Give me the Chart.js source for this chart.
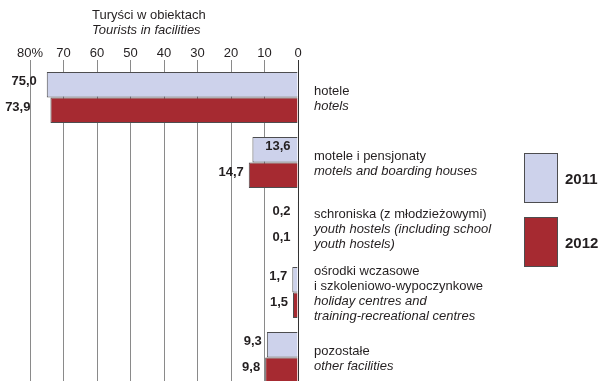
<!DOCTYPE html>
<html>
<head>
<meta charset="utf-8">
<script src="https://cdn.jsdelivr.net/npm/chart.js@4"></script>
<style>
  html, body { margin: 0; padding: 0; background: #fff; overflow: hidden; }
  #wrap { position: relative; width: 603px; height: 390px; }
</style>
</head>
<body>
<div id="wrap"><canvas id="chart"></canvas></div>
<script>
// Turyści w obiektach (%) — 2011 vs 2012
const categories = ['hotele', 'motele', 'schroniska', 'osrodki', 'pozostale'];
const values2011 = [75.0, 13.6, 0.2, 1.7, 9.3];
const values2012 = [73.9, 14.7, 0.1, 1.5, 9.8];
const seriesLabels = ['2011', '2012'];
const xTicks = [0, 10, 20, 30, 40, 50, 60, 70, 80];

// etykiety kategorii: linie po polsku (proste) i po angielsku (kursywa)
const plLines = [
    ['hotele'],
    ['motele i pensjonaty'],
    ['schroniska (z młodzieżowymi)'],
    ['ośrodki wczasowe', 'i szkoleniowo-wypoczynkowe'],
    ['pozostałe']
];
const enLines = [
    ['hotels'],
    ['motels and boarding houses'],
    ['youth hostels (including school', 'youth hostels)'],
    ['holiday centres and', 'training-recreational centres'],
    ['other facilities']
];

const titlePl = 'Turyści w obiektach';
const titleEn = 'Tourists in facilities';

const FONT = '"Liberation Sans", Arial, sans-serif';
const TEXT = '#231f20';
const fmt = v => v.toFixed(1).replace('.', ',');

// etykieta 13,6 siedzi w środku słupka
const insideLabel = (ds, i) => ds === 0 && i === 1;

const labelsPlugin = {
    id: 'customText',
    afterDatasetsDraw(chart) {
        const { ctx, chartArea, scales } = chart;
        ctx.save();

        // wartości przy słupkach
        ctx.font = 'bold 13px ' + FONT;
        ctx.fillStyle = TEXT;
        ctx.textAlign = 'right';
        ctx.textBaseline = 'middle';
        chart.data.datasets.forEach((ds, d) => {
            chart.getDatasetMeta(d).data.forEach((bar, i) => {
                const inner = bar.base - 7;
                let right = insideLabel(d, i) ? inner : Math.min(bar.x - 5, inner);
                if (bar.x < chartArea.left + 40) right = bar.x - 10 - d * 10; // długie słupki hoteli
                ctx.fillText(fmt(ds.data[i]), right, bar.y - 3);
            });
        });

        // opisy kategorii po prawej stronie osi
        ctx.textAlign = 'left';
        const lx = chartArea.right + 16;
        categories.forEach((c, i) => {
            const lines = plLines[i].map(t => [t, false]).concat(enLines[i].map(t => [t, true]));
            const cy = scales.y.getPixelForValue(i) + 1.5;
            const y0 = cy - (lines.length - 1) * 15 / 2;
            lines.forEach(([t, it], k) => {
                ctx.font = (it ? 'italic ' : '') + '13px ' + FONT;
                ctx.fillText(t, lx, y0 + k * 15);
            });
        });

        // tytuł osi
        ctx.font = '13px ' + FONT;
        ctx.fillText(titlePl, 92, 15);
        ctx.font = 'italic 13px ' + FONT;
        ctx.fillText(titleEn, 92, 30);

        // legenda
        const boxes = [153, 217];
        chart.data.datasets.forEach((ds, d) => {
            ctx.fillStyle = ds.backgroundColor;
            ctx.fillRect(524, boxes[d], 34, 50);
            ctx.strokeStyle = '#4d4d4f';
            ctx.lineWidth = 1;
            ctx.strokeRect(524.5, boxes[d] + 0.5, 33, 49);
            ctx.fillStyle = TEXT;
            ctx.font = 'bold 15px ' + FONT;
            ctx.fillText(ds.label, 565, boxes[d] + 27);
        });
        ctx.restore();
    }
};

new Chart(document.getElementById('chart'), {
    type: 'bar',
    data: {
        labels: categories,
        datasets: [
            {
                label: seriesLabels[0],
                data: values2011,
                backgroundColor: '#cdd2eb',
                borderColor: '#4d4d4f',
                borderWidth: 1,
                categoryPercentage: 0.785,
                barPercentage: 1
            },
            {
                label: seriesLabels[1],
                data: values2012,
                backgroundColor: '#a62a31',
                borderColor: '#4d4d4f',
                borderWidth: 1,
                categoryPercentage: 0.785,
                barPercentage: 1
            }
        ]
    },
    options: {
        indexAxis: 'y',
        responsive: true,
        maintainAspectRatio: false,
        animation: false,
        layout: { padding: { top: 47, right: 305, bottom: 0, left: 30 } },
        scales: {
            x: {
                position: 'top',
                reverse: true,
                min: 0,
                max: 80,
                afterBuildTicks: s => { s.ticks = xTicks.map(v => ({ value: v })); },
                border: { display: false },
                grid: {
                    color: c => c.tick && c.tick.value === 0 ? '#333' : '#8a8a8a',
                    lineWidth: 1,
                    tickLength: 5
                },
                ticks: {
                    padding: 0,
                    color: TEXT,
                    font: { family: FONT, size: 13, lineHeight: 1 },
                    callback: v => v === 80 ? '80%' : v
                }
            },
            y: { display: false }
        },
        plugins: {
            legend: { display: false },
            tooltip: { enabled: false }
        }
    },
    plugins: [labelsPlugin]
});
</script>
</body>
</html>
